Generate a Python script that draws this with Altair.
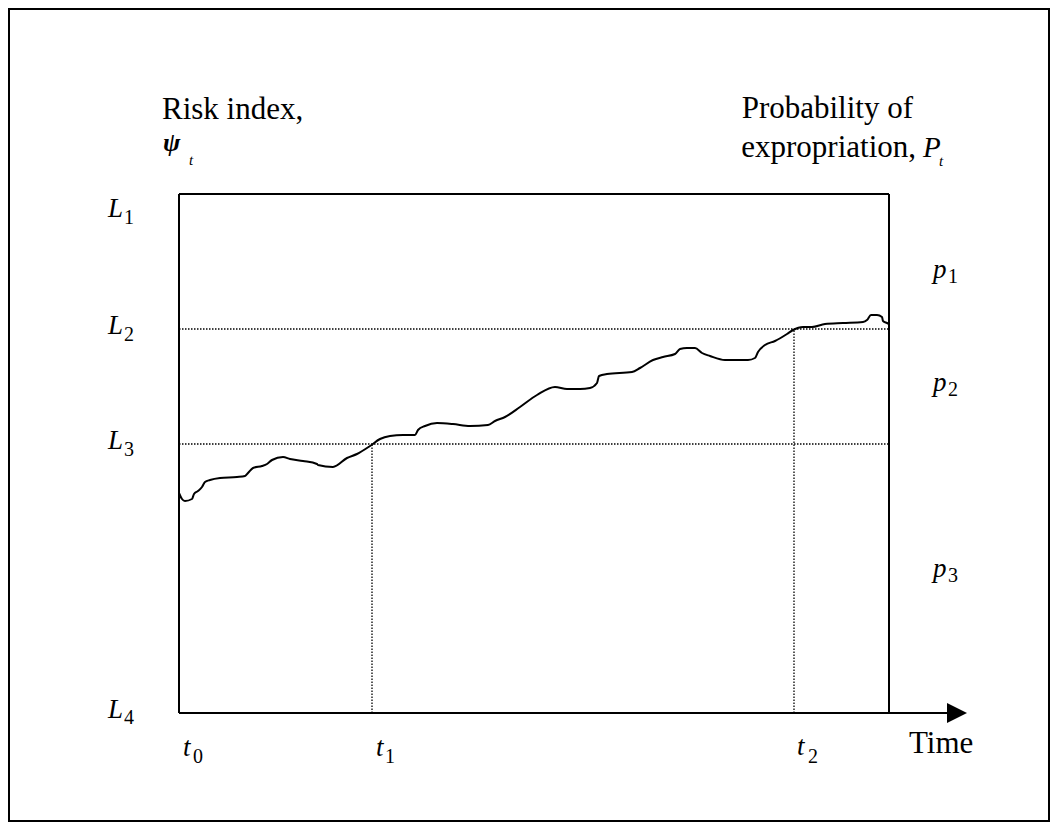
import altair as alt
import pandas as pd

FONT = "Liberation Serif"

# Risk index path (time units from t0, index units from L4)
curve_time = [0, 3, 6, 13, 15, 19, 23, 26, 31, 41, 58, 66, 69, 74, 83, 88, 93, 104, 111,
              124, 138, 139, 154, 168, 178, 191, 201, 211, 224, 236, 239, 246, 258, 274,
              291, 309, 316, 326, 341, 358, 376, 388, 401, 411, 418, 420, 428, 453, 461,
              474, 484, 496, 501, 508, 516, 523, 531, 546, 569, 576, 579, 586, 596, 608,
              614, 624, 633, 646, 664, 684, 688, 692, 698, 703, 704, 708, 710]
curve_index = [220, 214, 212, 214, 219, 222, 226, 231, 233, 235, 236, 237, 240, 245, 247,
               249, 253, 256, 254, 252, 249, 248, 246, 255, 259, 267, 274, 277, 278, 278,
               283, 287, 290, 289, 287, 288, 292, 296, 306, 318, 326, 324, 324, 325, 330,
               337, 339, 341, 345, 353, 356, 359, 364, 365, 365, 360, 357, 353, 353, 355,
               361, 368, 372, 379, 383, 386, 386, 389, 390, 391, 393, 398, 398, 396, 392,
               390, 389]

# thresholds and dates
level_L1, level_L2, level_L3, level_L4 = 519, 384, 269, 0
time_t0, time_t1, time_t2, time_end = 0, 193, 615, 710

xs = alt.Scale(domain=[-171, 871], nice=False, zero=False)
ys = alt.Scale(domain=[-109, 705], nice=False, zero=False)


def X(f="x"):
    return alt.X(f"{f}:Q", scale=xs, axis=None)


def Y(f="y"):
    return alt.Y(f"{f}:Q", scale=ys, axis=None)


def rules(df, **kw):
    return alt.Chart(df).mark_rule(color="black", **kw).encode(
        x=X("x"), x2="x2:Q", y=Y("y"), y2="y2:Q")


curve_df = pd.DataFrame({"t": curve_time, "v": curve_index})
curve = alt.Chart(curve_df).mark_line(color="black", strokeWidth=2, interpolate="monotone").encode(
    x=X("t"), y=Y("v"), order="t:Q")

box_df = pd.DataFrame([
    {"x": time_t0, "x2": time_t0, "y": level_L4, "y2": level_L1},
    {"x": time_t0, "x2": time_end, "y": level_L1, "y2": level_L1},
    {"x": time_end, "x2": time_end, "y": level_L4, "y2": level_L1},
    {"x": time_t0, "x2": 770, "y": level_L4, "y2": level_L4},
])
box = rules(box_df, strokeWidth=2)

dot_df = pd.DataFrame([
    {"x": time_t0, "x2": time_end, "y": level_L2, "y2": level_L2},
    {"x": time_t0, "x2": time_end, "y": level_L3, "y2": level_L3},
    {"x": time_t1, "x2": time_t1, "y": level_L4, "y2": level_L3},
    {"x": time_t2, "x2": time_t2, "y": level_L4, "y2": level_L2},
])
dots = rules(dot_df, strokeWidth=1.3, strokeDash=[1.5, 1.5])

arrow = alt.Chart(pd.DataFrame({"x": [778], "y": [level_L4]})).mark_point(
    shape="M-1,-1L1,0L-1,1Z", size=400, filled=True, color="black", opacity=1,
    strokeWidth=0).encode(x=X(), y=Y())

frame = alt.Chart(pd.DataFrame({"x": [-170], "x2": [870], "y": [-108], "y2": [704]})).mark_rect(
    fillOpacity=0, stroke="black", strokeWidth=2).encode(x=X(), x2="x2:Q", y=Y(), y2="y2:Q")


def text(rows, size, style="normal", weight="normal", align="left"):
    return alt.Chart(pd.DataFrame(rows)).mark_text(
        font=FONT, fontSize=size, fontStyle=style, fontWeight=weight, align=align,
        baseline="alphabetic", color="black").encode(x=X(), y=Y(), text="text:N")


plain = text([
    {"text": "Risk index,", "x": -17, "y": 594},
    {"text": "Time", "x": 730, "y": -40},
], 31)
plain_r = text([
    {"text": "Probability of", "x": 734, "y": 595},
    {"text": "expropriation,", "x": 737, "y": 556},
], 31, align="right")
psi = text([{"text": "ψ", "x": -16, "y": 562}], 26, style="italic", weight="bold")
bigP = text([{"text": "P", "x": 744, "y": 556}], 29, style="italic")
small_t = text([
    {"text": "t", "x": 10, "y": 548},
    {"text": "t", "x": 760, "y": 547},
], 15, style="italic")

main_sym = text([
    {"text": "L", "x": -71, "y": 496},
    {"text": "L", "x": -71, "y": 379},
    {"text": "L", "x": -71, "y": 264},
    {"text": "L", "x": -71, "y": -5},
    {"text": "t", "x": 4, "y": -43},
    {"text": "t", "x": 197, "y": -43},
    {"text": "t", "x": 618, "y": -42},
    {"text": "p", "x": 754, "y": 435},
    {"text": "p", "x": 754, "y": 322},
    {"text": "p", "x": 754, "y": 136},
], 27, style="italic")

subs = text([
    {"text": "1", "x": -55, "y": 489},
    {"text": "2", "x": -55, "y": 372},
    {"text": "3", "x": -55, "y": 257},
    {"text": "4", "x": -55, "y": -11},
    {"text": "0", "x": 14, "y": -50},
    {"text": "1", "x": 206, "y": -50},
    {"text": "2", "x": 629, "y": -50},
    {"text": "1", "x": 769, "y": 430},
    {"text": "2", "x": 769, "y": 317},
    {"text": "3", "x": 769, "y": 131},
], 20)

chart = alt.layer(frame, dots, box, arrow, curve, plain, plain_r, psi, bigP, small_t,
                  main_sym, subs).properties(
    width=1042, height=814, padding=0, autosize="none", background="white"
).configure_view(stroke=None)

chart.save("out.html", embed_options={"renderer": "svg", "actions": False})
